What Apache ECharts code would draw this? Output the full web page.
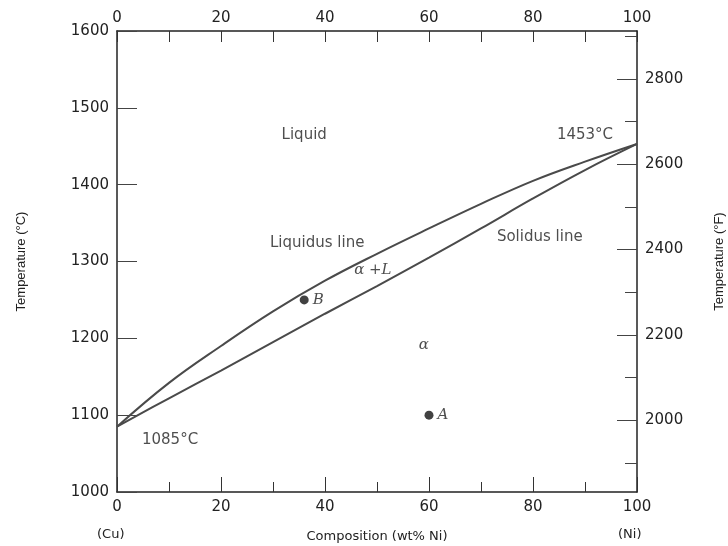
<!DOCTYPE html>
<html>
<head>
<meta charset="utf-8">
<script src="https://cdn.jsdelivr.net/npm/echarts@6/dist/echarts.min.js"></script>
<style>
  html, body { margin: 0; padding: 0; background: #fff; }
  #chart { width: 728px; height: 546px; }
</style>
</head>
<body>
<div id="chart"></div>
<script>
// composition (wt% Ni) where the curves were read
var compWt = [0, 10, 20, 30, 40, 50, 60, 70, 80, 90, 100];
// liquidus and solidus temperatures (°C)
var liquidusT = [1085, 1142, 1190, 1235, 1275, 1310, 1343, 1375, 1405, 1430, 1453];
var solidusT = [1085, 1122, 1158, 1195, 1232, 1268, 1305, 1343, 1382, 1419, 1453];
// marked alloy points
var pointNames = ['B', 'A'];
var pointWt = [36, 60];
var pointT = [1250, 1100];
// tick labels of the Fahrenheit scale
var fLabels = [2000, 2200, 2400, 2600, 2800];
var fMinor = [1900, 2100, 2300, 2500, 2700, 2900];
// region labels
var notes = [
    ['Liquid', 36, 1465],
    ['1453°C', 90, 1465],
    ['Liquidus line', 38.5, 1324],
    ['Solidus line', 81.3, 1332],
    ['1085°C', 10.2, 1068]
];
var greekNotes = [
    ['α +L', 49.2, 1289],
    ['α', 59, 1191]
];

(function () {
    var myChart = echarts.init(document.getElementById('chart'));
    var plain = function (v) { return String(v); };
    var tickFont = { color: '#222', fontSize: 15, fontFamily: 'DejaVu Sans', formatter: plain };
    var axisLine = { show: true, onZero: false, lineStyle: { color: '#222', width: 1.5 } };
    var cToF = function (c) { return c * 1.8 + 32; };

    function pairs(xs, ys) {
        return xs.map(function (x, i) { return [x, ys[i]]; });
    }

    var option = {
        animation: false,
        grid: { left: 117, right: 91, top: 31, bottom: 54, outerBoundsMode: 'none' },
        xAxis: [
            {
                type: 'value', position: 'bottom', min: 0, max: 100, interval: 20,
                axisLine: axisLine,
                axisTick: { inside: true, length: 15, lineStyle: { color: '#333' } },
                minorTick: { show: true, splitNumber: 2, length: 10, lineStyle: { color: '#333' } },
                splitLine: { show: false },
                axisLabel: Object.assign({ margin: 8 }, tickFont),
                name: 'Composition (wt% Ni)', nameLocation: 'middle', nameGap: 38,
                nameTextStyle: { color: '#222', fontSize: 13, fontFamily: 'DejaVu Sans' }
            },
            {
                type: 'value', position: 'top', min: 0, max: 100, interval: 20,
                axisLine: axisLine,
                axisTick: { inside: true, length: 11, lineStyle: { color: '#333' } },
                minorTick: { show: true, splitNumber: 2, length: 11, lineStyle: { color: '#333' } },
                splitLine: { show: false },
                axisLabel: Object.assign({ margin: 5 }, tickFont)
            }
        ],
        yAxis: [
            {
                type: 'value', position: 'left', min: 1000, max: 1600, interval: 100,
                axisLine: axisLine,
                axisTick: { inside: true, length: 20, lineStyle: { color: '#444' } },
                splitLine: { show: false },
                axisLabel: Object.assign({ margin: 8 }, tickFont),
                name: 'Temperature (°C)', nameLocation: 'middle', nameGap: 89, nameRotate: 90,
                nameTextStyle: { color: '#222', fontSize: 13, fontFamily: 'Liberation Sans' }
            },
            {
                type: 'value', position: 'right', min: cToF(1000), max: cToF(1600),
                axisLine: axisLine,
                axisTick: { inside: true, length: 20, customValues: fLabels, lineStyle: { color: '#444' } },
                splitLine: { show: false },
                axisLabel: Object.assign({ margin: 8, customValues: fLabels }, tickFont),
                name: 'Temperature (°F)', nameLocation: 'middle', nameGap: 76, nameRotate: 90,
                nameTextStyle: { color: '#222', fontSize: 13, fontFamily: 'Liberation Sans' }
            },
            {
                // minor ticks of the Fahrenheit scale
                type: 'value', position: 'right', min: cToF(1000), max: cToF(1600),
                axisLine: { show: false, onZero: false },
                axisTick: { inside: true, length: 12, customValues: fMinor, lineStyle: { color: '#444' } },
                splitLine: { show: false },
                axisLabel: { show: false }
            }
        ],
        series: [
            {
                name: 'Liquidus', type: 'line', smooth: 0.4, showSymbol: false,
                data: pairs(compWt, liquidusT),
                lineStyle: { color: '#4a4a4a', width: 2 }
            },
            {
                name: 'Solidus', type: 'line', smooth: 0.4, showSymbol: false,
                data: pairs(compWt, solidusT),
                lineStyle: { color: '#4a4a4a', width: 2 }
            },
            {
                name: 'Points', type: 'scatter', symbolSize: 9,
                itemStyle: { color: '#111' },
                data: pointNames.map(function (n, i) { return { name: n, value: [pointWt[i], pointT[i]] }; }),
                label: {
                    show: true, position: 'right', distance: 4, formatter: '{b}',
                    color: '#222', fontSize: 15, fontStyle: 'italic', fontFamily: 'DejaVu Serif'
                }
            },
            {
                name: 'Notes', type: 'scatter', symbolSize: 0, silent: true,
                data: notes.map(function (n) { return { name: n[0], value: [n[1], n[2]] }; }),
                label: {
                    show: true, position: 'inside', formatter: '{b}',
                    color: '#222', fontSize: 15, fontFamily: 'DejaVu Sans'
                }
            },
            {
                name: 'Greek', type: 'scatter', symbolSize: 0, silent: true,
                data: greekNotes.map(function (n) { return { name: n[0], value: [n[1], n[2]] }; }),
                label: {
                    show: true, position: 'inside', formatter: '{b}',
                    color: '#222', fontSize: 15, fontStyle: 'italic', fontFamily: 'DejaVu Serif'
                }
            }
        ],
        graphic: [
            { type: 'text', left: 97, top: 528, style: { text: '(Cu)', fill: '#222', font: '13px "DejaVu Sans"' } },
            { type: 'text', left: 618, top: 528, style: { text: '(Ni)', fill: '#222', font: '13px "DejaVu Sans"' } }
        ]
    };
    myChart.setOption(option);
    window.addEventListener('resize', function () {
        myChart.resize();
    });
})();
</script>
</body>
</html>
